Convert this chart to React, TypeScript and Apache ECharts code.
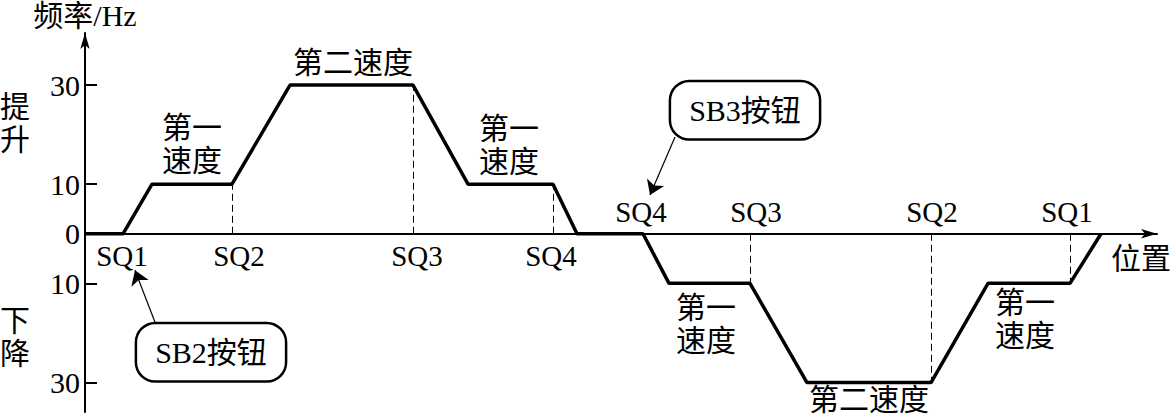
import React, { useEffect, useRef } from 'react';
import * as echarts from 'echarts';

// Speed profile: position (arbitrary units) vs frequency (Hz, negative = lowering)
const profilePos = [0, 38, 67, 147, 205, 328, 383, 468, 492, 558, 584, 665, 722, 846, 903, 985, 1016];
const profileHz = [0, 0, 10, 10, 30, 30, 10, 10, 0, 0, -10, -10, -30, -30, -10, -10, 0];

// Limit switch guide lines (dashed)
const guidePos = [147, 328, 468, 665, 846, 985];
const guideHz = [10, 30, 10, -10, -30, -10];

// Limit switch labels
const sqNames = ['SQ1', 'SQ2', 'SQ3', 'SQ4', 'SQ4', 'SQ3', 'SQ2', 'SQ1'];
const sqPos = [37, 154, 332, 466, 556, 671, 847, 982];
const sqHz = [-4.5, -4.5, -4.5, -4.5, 4.4, 4.4, 4.4, 4.4];

// Speed annotations
const noteTexts = ['第一\n速度', '第二速度', '第一\n速度', '第一\n速度', '第二速度', '第一\n速度', '提\n升', '下\n降', '位置'];
const notePos = [107, 268, 424, 621, 784, 940, -70, -70, 1056];
const noteHz = [18.1, 34.6, 17.9, -18.1, -33.5, -17.1, 22.3, -20.8, -4.9];

// Button call-outs
const buttonTexts = ['SB2按钮', 'SB3按钮'];
const buttonPos = [126, 660];
const buttonHz = [-23.9, 24.9];
const arrowFrom = [[70, -17.85], [590, 19.5]];
const arrowTo = [[50, -7.35], [565, 7.8]];

// Y tick labels
const yTicks = [30, 10, 0, -10, -30];

const FONT = "'Liberation Serif', 'Noto Sans CJK SC', serif";
const INK = '#000';

const plainLabel = {
  show: true,
  position: 'inside',
  formatter: '{b}',
  fontFamily: FONT,
  color: INK,
  opacity: 1,
  textBorderWidth: 0,
  textBorderColor: 'transparent',
  textShadowBlur: 0,
  textShadowColor: 'transparent',
};

const textCarrier = {
  type: 'scatter',
  clip: false,
  silent: true,
  symbolSize: 1,
  itemStyle: { color: 'rgba(0,0,0,0)', opacity: 1 },
  emphasis: { disabled: true },
};

export default function App() {
  const ref = useRef<HTMLDivElement>(null);
  useEffect(() => {
    const chart = echarts.init(ref.current!, null, { renderer: 'svg' });
    const option: any = {
      animation: false,
      backgroundColor: '#fff',
      grid: { left: 85, right: 15, top: 33, bottom: 5, containLabel: false },
      xAxis: {
        type: 'value',
        min: 0,
        max: 1072,
        axisLine: { show: true, symbol: ['none', 'arrow'], symbolSize: [7, 16], lineStyle: { color: INK, width: 2 } },
        axisTick: { show: false },
        axisLabel: { show: false },
        splitLine: { show: false },
      },
      yAxis: {
        type: 'value',
        min: -35.95,
        max: 40.5,
        name: '频率/Hz',
        nameLocation: 'end',
        nameGap: 3,
        nameTextStyle: { fontFamily: FONT, fontSize: 30, lineHeight: 30, color: INK },
        axisLine: { show: true, symbol: ['none', 'arrow'], symbolSize: [7, 16], lineStyle: { color: INK, width: 2 } },
        axisTick: { show: true, inside: true, length: 12, customValues: yTicks, lineStyle: { color: INK, width: 2 } },
        axisLabel: {
          show: true,
          customValues: yTicks,
          margin: 5,
          fontFamily: FONT,
          fontSize: 30,
          color: INK,
          formatter: (v: number) => String(Math.abs(v)),
        },
        splitLine: { show: false },
      },
      series: [
        {
          type: 'line',
          data: profilePos.map((p, i) => [p, profileHz[i]]),
          symbol: 'none',
          lineStyle: { color: INK, width: 3.5 },
          z: 5,
          markLine: {
            silent: true,
            symbol: 'none',
            label: { show: false },
            lineStyle: { color: INK, width: 1, type: [7, 4] },
            data: guidePos.map((p, i) => [{ coord: [p, 0] }, { coord: [p, guideHz[i]] }]),
          },
        },
        {
          ...textCarrier,
          label: { ...plainLabel, fontSize: 29 },
          data: sqNames.map((n, i) => ({ name: n, value: [sqPos[i], sqHz[i]] })),
        },
        {
          ...textCarrier,
          label: { ...plainLabel, fontSize: 30, lineHeight: 33 },
          data: noteTexts.map((n, i) => ({ name: n, value: [notePos[i], noteHz[i]] })),
        },
        {
          ...textCarrier,
          label: {
            ...plainLabel,
            fontSize: 30,
            borderColor: INK,
            borderWidth: 2.5,
            borderRadius: 18,
            padding: [14, 18, 12, 18],
            backgroundColor: '#fff',
            shadowBlur: 0,
            shadowColor: 'transparent',
          },
          data: buttonTexts.map((n, i) => ({ name: n, value: [buttonPos[i], buttonHz[i]] })),
        },
        {
          type: 'lines',
          coordinateSystem: 'cartesian2d',
          silent: true,
          symbol: ['none', 'arrow'],
          symbolSize: [7, 14],
          lineStyle: { color: INK, width: 1.2, curveness: 0, opacity: 1 },
          itemStyle: { color: INK, opacity: 1 },
          data: arrowFrom.map((f, i) => ({ coords: [f, arrowTo[i]] })),
        },
      ],
    };
    chart.setOption(option);
    return () => chart.dispose();
  }, []);
  return (
    <div
      ref={ref}
      style={{ position: 'fixed', left: 0, top: 0, width: 1172, height: 417, background: '#fff' }}
    />
  );
}
